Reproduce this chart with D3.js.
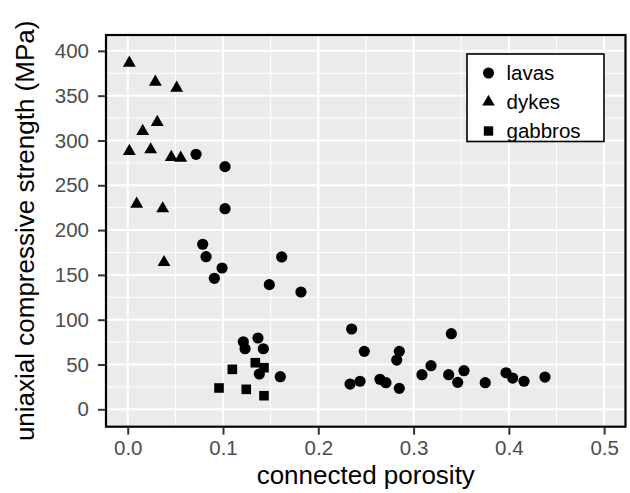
<!DOCTYPE html>
<html>
<head>
<meta charset="utf-8">
<script src="https://cdn.jsdelivr.net/npm/d3@7"></script>
<style>
  html, body { margin: 0; padding: 0; background: #ffffff; }
  svg { display: block; }
  text { font-family: "Liberation Sans", Arial, Helvetica, sans-serif; }
</style>
</head>
<body>
<svg id="chart" width="630" height="493"></svg>
<script>
// ---- data ----
const lavasX = [0.0717, 0.1021, 0.1021, 0.0787, 0.0822, 0.0990, 0.0909, 0.1616, 0.1486, 0.1818,
                0.1213, 0.1367, 0.1231, 0.1423, 0.1381, 0.1601,
                0.2350, 0.2483, 0.2850, 0.2823, 0.2333, 0.2438, 0.2647, 0.2710, 0.2850, 0.3088,
                0.3183, 0.3396, 0.3368, 0.3463, 0.3529, 0.3752, 0.3970, 0.4040, 0.4159, 0.4379];
const lavasY = [284.6, 270.8, 223.9, 184.2, 170.3, 157.7, 146.2, 170.0, 139.1, 130.9,
                75.4, 79.6, 67.6, 67.6, 39.4, 36.4,
                89.6, 64.7, 64.7, 55.0, 28.2, 31.3, 33.5, 29.7, 23.4, 38.6,
                48.7, 84.4, 38.6, 30.1, 43.1, 29.7, 40.8, 34.9, 31.3, 36.0];
const dykesX = [0.0017, 0.0290, 0.0514, 0.0310, 0.0157, 0.0017, 0.0241, 0.0457, 0.0556, 0.0094, 0.0367, 0.0381];
const dykesY = [386.5, 365.3, 358.6, 320.3, 310.3, 288.0, 289.8, 281.3, 280.5, 229.1, 224.0, 164.0];
const gabbrosX = [0.1339, 0.1430, 0.1098, 0.0958, 0.1244, 0.1430];
const gabbrosY = [52.0, 46.4, 44.6, 23.8, 22.3, 15.2];

const groups = ["lavas", "dykes", "gabbros"];
const xTicks = [0.0, 0.1, 0.2, 0.3, 0.4, 0.5];
const yTicks = [0, 50, 100, 150, 200, 250, 300, 350, 400];
const xLabel = "connected porosity";
const yLabel = "uniaxial compressive strength (MPa)";

// ---- layout ----
const panel = { left: 106, right: 625.5, top: 35, bottom: 426.7 };
const svg = d3.select("#chart");

const x = d3.scaleLinear().domain([-0.0228, 0.5224]).range([panel.left, panel.right]);
const y = d3.scaleLinear().domain([-19.4, 417.7]).range([panel.bottom, panel.top]);

// panel background
svg.append("rect")
  .attr("x", panel.left).attr("y", panel.top)
  .attr("width", panel.right - panel.left).attr("height", panel.bottom - panel.top)
  .attr("fill", "#EBEBEB");

// grid
const xMinor = xTicks.slice(0, -1).map(d => d + 0.05);
const yMinor = yTicks.slice(0, -1).map(d => d + 25);
const grid = svg.append("g");
grid.selectAll(".xminor").data(xMinor).join("line")
  .attr("x1", d => x(d)).attr("x2", d => x(d))
  .attr("y1", panel.top).attr("y2", panel.bottom)
  .attr("stroke", "#ffffff").attr("stroke-width", 1);
grid.selectAll(".yminor").data(yMinor).join("line")
  .attr("y1", d => y(d)).attr("y2", d => y(d))
  .attr("x1", panel.left).attr("x2", panel.right)
  .attr("stroke", "#ffffff").attr("stroke-width", 1);
grid.selectAll(".xmajor").data(xTicks).join("line")
  .attr("x1", d => x(d)).attr("x2", d => x(d))
  .attr("y1", panel.top).attr("y2", panel.bottom)
  .attr("stroke", "#ffffff").attr("stroke-width", 2);
grid.selectAll(".ymajor").data(yTicks).join("line")
  .attr("y1", d => y(d)).attr("y2", d => y(d))
  .attr("x1", panel.left).attr("x2", panel.right)
  .attr("stroke", "#ffffff").attr("stroke-width", 2);

// points
const sym = {
  lavas: d3.symbol().type(d3.symbolCircle).size(Math.PI * 5.6 * 5.6),
  dykes: d3.symbol().type(d3.symbolTriangle).size(72),
  gabbros: d3.symbol().type(d3.symbolSquare).size(92)
};
const series = {
  lavas: lavasX.map((v, i) => [v, lavasY[i]]),
  dykes: dykesX.map((v, i) => [v, dykesY[i]]),
  gabbros: gabbrosX.map((v, i) => [v, gabbrosY[i]])
};
const pts = svg.append("g");
groups.forEach(g => {
  pts.selectAll("." + g).data(series[g]).join("path")
    .attr("class", g)
    .attr("d", sym[g]())
    .attr("transform", d => `translate(${x(d[0])},${y(d[1])})`)
    .attr("fill", "#000000");
});

// panel border
svg.append("rect")
  .attr("x", panel.left).attr("y", panel.top)
  .attr("width", panel.right - panel.left).attr("height", panel.bottom - panel.top)
  .attr("fill", "none").attr("stroke", "#000000").attr("stroke-width", 2.2);

// axes
const xAxis = d3.axisBottom(x).tickValues(xTicks).tickFormat(d3.format(".1f")).tickSize(7).tickPadding(5.5);
const yAxis = d3.axisLeft(y).tickValues(yTicks).tickFormat(d3.format("d")).tickSize(7).tickPadding(9);

const gx = svg.append("g").attr("transform", `translate(0,${panel.bottom + 1})`).call(xAxis);
const gy = svg.append("g").attr("transform", `translate(${panel.left - 1},0)`).call(yAxis);
[gx, gy].forEach(g => {
  g.select(".domain").remove();
  g.selectAll(".tick line").attr("stroke", "#333333").attr("stroke-width", 2);
  g.selectAll(".tick text").attr("fill", "#4D4D4D").attr("font-size", 20.5)
    .attr("font-family", "Liberation Sans, Arial, sans-serif");
});

// axis titles
svg.append("text")
  .attr("x", (panel.left + panel.right) / 2).attr("y", 483.5)
  .attr("text-anchor", "middle").attr("font-size", 26).attr("fill", "#000")
  .text(xLabel);
svg.append("text")
  .attr("transform", `translate(34,${(panel.top + panel.bottom) / 2}) rotate(-90)`)
  .attr("text-anchor", "middle").attr("font-size", 26).attr("fill", "#000")
  .text(yLabel);

// legend
const lg = svg.append("g").attr("transform", "translate(467,54)");
lg.append("rect").attr("x", 0).attr("y", 0).attr("width", 137).attr("height", 87.5)
  .attr("fill", "#ffffff").attr("stroke", "#000000").attr("stroke-width", 1.6);
const legendSym = {
  lavas: d3.symbol().type(d3.symbolCircle).size(Math.PI * 5.5 * 5.5),
  dykes: d3.symbol().type(d3.symbolTriangle).size(68),
  gabbros: d3.symbol().type(d3.symbolSquare).size(88)
};
groups.forEach((g, i) => {
  const cy = 19 + i * 29;
  lg.append("path").attr("d", legendSym[g]()).attr("transform", `translate(21.5,${cy})`).attr("fill", "#000");
  lg.append("text").attr("x", 39.5).attr("y", cy).attr("dy", "0.36em")
    .attr("font-size", 20.5).attr("fill", "#000").text(g);
});
</script>
</body>
</html>
